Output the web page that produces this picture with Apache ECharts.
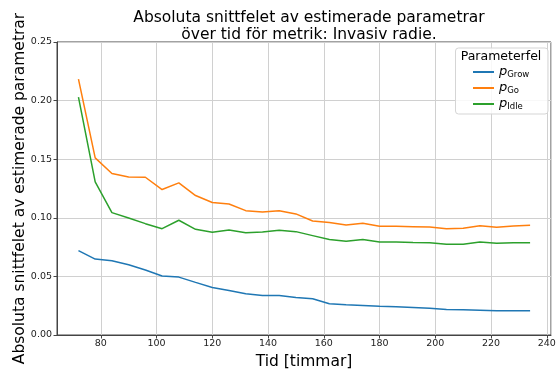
<!DOCTYPE html>
<html>
<head>
<meta charset="utf-8">
<script src="https://cdn.jsdelivr.net/npm/echarts@6/dist/echarts.min.js"></script>
<style>
html,body{margin:0;padding:0;background:#fff;}
#c{width:556px;height:369px;}
</style>
</head>
<body>
<div id="c"></div>
<script>
const hours = [72,78,84,90,96,102,108,114,120,126,132,138,144,150,156,162,168,174,180,186,192,198,204,210,216,222,228,234];
const pGrow = [0.0720,0.0648,0.0634,0.0600,0.0554,0.0503,0.0494,0.0449,0.0406,0.0380,0.0352,0.0338,0.0338,0.0320,0.0309,0.0266,0.0258,0.0252,0.0246,0.0241,0.0235,0.0229,0.0218,0.0215,0.0212,0.0207,0.0207,0.0207];
const pGo = [0.2184,0.1511,0.1378,0.1349,0.1346,0.1241,0.1298,0.1190,0.1130,0.1118,0.1061,0.1050,0.1061,0.1033,0.0973,0.0959,0.0939,0.0953,0.0927,0.0927,0.0924,0.0921,0.0907,0.0910,0.0933,0.0919,0.0930,0.0936];
const pIdle = [0.2030,0.1306,0.1044,0.0999,0.0950,0.0907,0.0979,0.0902,0.0876,0.0896,0.0873,0.0879,0.0893,0.0882,0.0848,0.0814,0.0799,0.0814,0.0793,0.0793,0.0790,0.0788,0.0774,0.0774,0.0793,0.0782,0.0788,0.0788];
const seriesNames = ['pGrow','pGo','pIdle'];
const seriesSubs = ['Grow','Go','Idle'];
const colors = ['#1f77b4','#ff7f0e','#2ca02c'];
const titleText = 'Absoluta snittfelet av estimerade parametrar\növer tid för metrik: Invasiv radie.';
const yName = 'Absoluta snittfelet av estimerade parametrar';
const xName = 'Tid [timmar]';
const legendTitle = 'Parameterfel';

const font = 'DejaVu Sans';
const chart = echarts.init(document.getElementById('c'), null, {renderer:'canvas'});
const allData = [pGrow, pGo, pIdle];
const series = allData.map((d,i)=>({
  name: seriesNames[i],
  type: 'line',
  data: hours.map((h,j)=>[h,d[j]]),
  symbol: 'none',
  lineStyle: {width: 1.5, color: colors[i]},
  itemStyle: {color: colors[i]},
  z: 3
}));
const subMap = {};
seriesNames.forEach((n,i)=>subMap[n]=seriesSubs[i]);

chart.setOption({
  animation: false,
  backgroundColor: '#fff',
  title: {
    text: titleText,
    left: 304,
    textAlign: 'center',
    top: 5,
    textStyle: {fontFamily: font, fontSize: 15.5, fontWeight: 'normal', color: '#000', lineHeight: 16.5}
  },
  grid: {left: 57, right: 5, top: 42, bottom: 34, show: true, borderColor: '#444', borderWidth: 1, backgroundColor: 'transparent', containLabel: false, outerBoundsMode: 'none'},
  xAxis: {
    type: 'value',
    min: 64.3, max: 241.5,
    splitNumber: 9,
    minInterval: 20, maxInterval: 20,
    name: xName,
    nameLocation: 'middle',
    nameGap: 15,
    nameTextStyle: {fontFamily: font, fontSize: 15.5, color: '#000'},
    axisLine: {show: true, lineStyle: {color: '#444', width: 1}},
    axisTick: {show: true, length: 3.5, lineStyle: {color: '#444'}},
    axisLabel: {fontFamily: font, fontSize: 9.5, color: '#222', margin: 4, showMinLabel: false, showMaxLabel: false},
    splitLine: {show: true, lineStyle: {color: '#d0d0d0', width: 1}}
  },
  yAxis: {
    type: 'value',
    min: 0, max: 0.25, interval: 0.05,
    name: yName,
    nameLocation: 'middle',
    nameGap: 29,
    nameMoveOverlap: false,
    nameTextStyle: {fontFamily: font, fontSize: 15.5, color: '#000'},
    axisLine: {show: true, lineStyle: {color: '#444', width: 1}},
    axisTick: {show: true, length: 3.5, lineStyle: {color: '#444'}},
    axisLabel: {fontFamily: font, fontSize: 9.5, color: '#222', margin: 5, formatter: v => v.toFixed(2)},
    splitLine: {show: true, lineStyle: {color: '#d0d0d0', width: 1}}
  },
  legend: {
    orient: 'vertical',
    left: 473,
    top: 65,
    itemWidth: 21,
    itemHeight: 2,
    itemGap: 2,
    icon: 'rect',
    z: 10,
    padding: 0,
    data: seriesNames,
    formatter: n => '{p|p}{s|' + subMap[n] + '}',
    textStyle: {
      fontFamily: font,
      color: '#000',
      lineHeight: 14,
      rich: {
        p: {fontFamily: font, fontSize: 13, fontStyle: 'italic', color: '#000', lineHeight: 14},
        s: {fontFamily: font, fontSize: 8.5, color: '#000', lineHeight: 8, verticalAlign: 'bottom'}
      }
    }
  },
  graphic: [
    {type: 'rect', z: 8, shape: {x: 455.5, y: 48, width: 92.5, height: 66, r: 3}, style: {fill: 'rgba(255,255,255,0.85)', stroke: '#d5d5d5', lineWidth: 1}},
    {type: 'text', z: 9, style: {text: legendTitle, x: 501, y: 57, align: 'center', verticalAlign: 'middle', font: '12.5px "DejaVu Sans"', fill: '#000'}}
  ],
  series: series
});
</script>
</body>
</html>
